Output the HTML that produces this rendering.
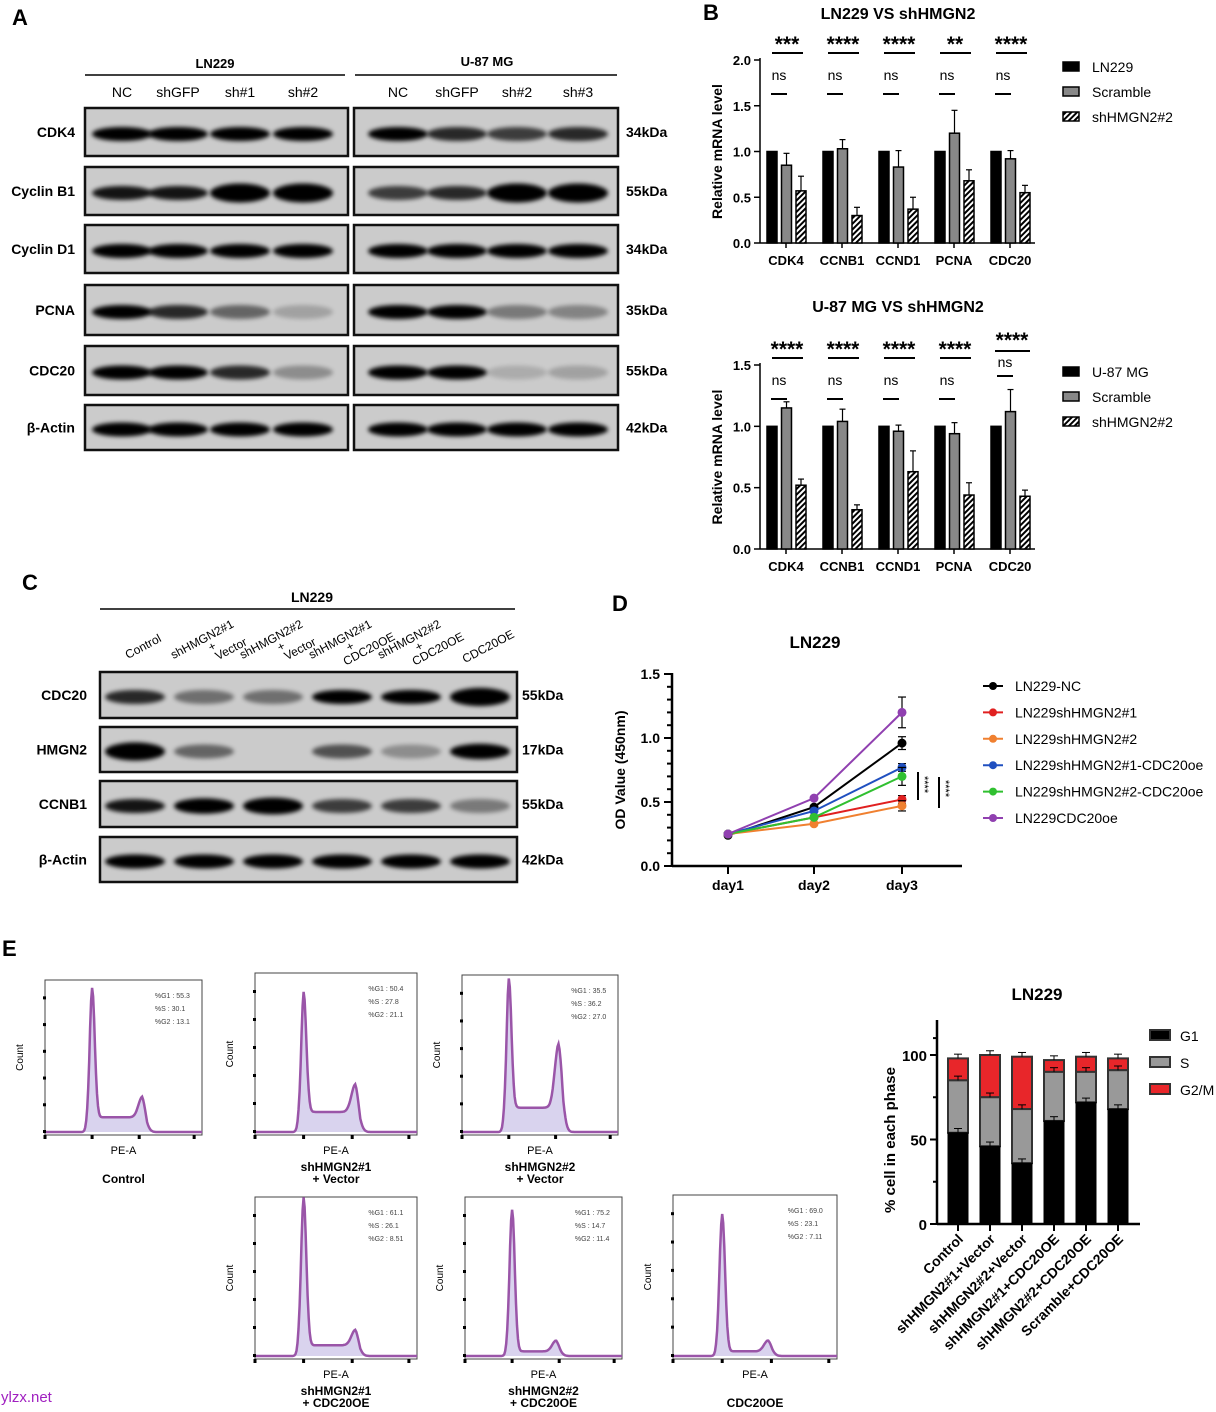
<!DOCTYPE html>
<html><head><meta charset="utf-8"><style>
body{margin:0;background:#fff;}
svg{display:block;font-family:"Liberation Sans",Arial,sans-serif;}
</style></head><body>
<svg id="s" width="1216" height="1412" viewBox="0 0 1216 1412" xmlns="http://www.w3.org/2000/svg">
<defs>
<filter id="bl" x="-20%" y="-100%" width="140%" height="300%"><feGaussianBlur stdDeviation="2.2"/></filter>
<pattern id="hat" width="4" height="4" patternUnits="userSpaceOnUse" patternTransform="rotate(45)"><rect width="4" height="4" fill="#fff"/><rect width="2" height="4" fill="#000"/></pattern>
</defs>
<g id="g"></g>
<text x="1" y="1402" font-size="15" fill="#a020c0">ylzx.net</text>
</svg>
<script>
const G=document.getElementById('g');let h='';
function T(x,y,t,o={}){h+=`<text x="${x}" y="${y}" font-size="${o.s||13}" font-weight="${o.b?'bold':'normal'}" text-anchor="${o.a||'start'}" fill="${o.f||'#000'}" ${o.tr?`transform="${o.tr}"`:''}>${t}</text>`;}
function L(x1,y1,x2,y2,w=1.5,c='#000'){h+=`<line x1="${x1}" y1="${y1}" x2="${x2}" y2="${y2}" stroke="${c}" stroke-width="${w}"/>`;}
function R(x,y,w,hh,f,s='none',sw=0){h+=`<rect x="${x}" y="${y}" width="${w}" height="${hh}" fill="${f}" stroke="${s}" stroke-width="${sw}"/>`;}
function blot(x,y,w,hh,lanes,ints,bh){R(x,y,w,hh,'#cbcbcb','#111',2.5);
 ints.forEach((v,i)=>{if(v<=0)return;const cx=lanes[i];const op=Math.min(1,v);const rh=(bh||7)*(v>1?v:1);
 h+=`<ellipse cx="${cx}" cy="${y+hh/2+2}" rx="30" ry="${rh}" fill="#000" opacity="${op}" filter="url(#bl)"/>`;});}
T(12,25,'A',{s:22,b:1});
T(215,68,'LN229',{b:1,a:'middle'});L(85,75,345,75);
T(487,66,'U-87 MG',{b:1,a:'middle'});L(355,75,617,75);
const la=[122,178,240,303],ra=[398,457,517,578];
['NC','shGFP','sh#1','sh#2'].forEach((t,i)=>T(la[i],97,t,{a:'middle',s:14}));
['NC','shGFP','sh#2','sh#3'].forEach((t,i)=>T(ra[i],97,t,{a:'middle',s:14}));
const rows=[['CDK4',108,48,[1,1,1,1],[1,.8,.7,.8],'34kDa'],['Cyclin B1',167,48,[.9,.9,1.35,1.35],[.7,.8,1.35,1.35],'55kDa'],['Cyclin D1',225,48,[1,1,1,1],[1,1,1,1],'34kDa'],['PCNA',285,50,[1,.8,.5,.2],[1,1,.4,.35],'35kDa'],['CDC20',346,49,[1,1,.8,.3],[1,1,.15,.2],'55kDa'],['β-Actin',405,45,[1,1,1,1],[1,1,1,1],'42kDa']];
rows.forEach(r=>{T(75,r[1]+r[2]/2+5,r[0],{b:1,a:'end',s:14});blot(85,r[1],263,r[2],la,r[3]);blot(354,r[1],264,r[2],ra,r[4]);T(626,r[1]+r[2]/2+5,r[5],{b:1,s:14});});
T(703,20,'B',{s:22,b:1});
function barB(y0,yTop,maxv,ticks,title,ty,vals,errs,legend,ly,stars,nsY,starY){
 const sc=(y0-yTop)/maxv;T(898,ty,title,{b:1,a:'middle',s:16});
 L(760,yTop-2,760,y0);L(760,y0,1035,y0);
 ticks.forEach(t=>{const y=y0-t*sc;L(754,y,760,y);T(751,y+5,t.toFixed(1),{b:1,a:'end',s:13});});
 T(722,(y0+yTop)/2,'Relative mRNA level',{b:1,a:'middle',s:14,tr:`rotate(-90 722 ${(y0+yTop)/2})`});
 ['CDK4','CCNB1','CCND1','PCNA','CDC20'].forEach((n,i)=>{const gx=767+i*56;L(gx+19,y0,gx+19,y0+5);T(gx+19,y0+22,n,{b:1,a:'middle',s:13});
  const f=['#000','#888','url(#hat)'];vals[i].forEach((v,j)=>{const bx=gx+j*14.5;const y=y0-v*sc;R(bx,y,10,v*sc,f[j],'#000',1.5);if(j>0){const e=errs[i][j-1]*sc;L(bx+5,y,bx+5,y-e,1.2);L(bx+2,y-e,bx+8,y-e,1.2);}});
  if(stars[i]){T(gx+12,nsY,'ns',{a:'middle',s:14});L(gx+4,nsY+14,gx+20,nsY+14,2);
  T(gx+20,starY+6,stars[i],{a:'middle',s:21,b:1});L(gx+5,starY+8,gx+36,starY+8,2);}});
 legend.forEach((t,i)=>{R(1063,ly+i*25-6,16,9,['#000','#888','url(#hat)'][i],'#000',1.5);T(1092,ly+i*25+4,t,{s:14});});}
barB(243,60,2,[0,.5,1,1.5,2],'LN229 VS shHMGN2',19,[[1,.85,.57],[1,1.03,.3],[1,.83,.37],[1,1.2,.68],[1,.92,.55]],[[.13,.16],[.1,.09],[.18,.13],[.25,.12],[.09,.08]],['LN229','Scramble','shHMGN2#2'],68,['***','****','****','**','****'],80,45);
barB(549,365,1.5,[0,.5,1,1.5],'U-87 MG VS shHMGN2',312,[[1,1.15,.52],[1,1.04,.32],[1,.96,.63],[1,.94,.44],[1,1.12,.43]],[[.05,.05],[.1,.04],[.05,.17],[.09,.1],[.18,.05]],['U-87 MG','Scramble','shHMGN2#2'],373,['****','****','****','****',''],385,350);
T(1012,347,'****',{a:'middle',s:21,b:1});L(995,351,1030,351,2);T(1005,367,'ns',{a:'middle',s:14});L(997,376,1013,376,2);
T(22,590,'C',{s:22,b:1});T(312,602,'LN229',{b:1,a:'middle',s:14});L(100,609,515,609);
const cl=[135,204,273,342,411,480];
const cn=[['Control'],['shHMGN2#1','+','Vector'],['shHMGN2#2','+','Vector'],['shHMGN2#1','+','CDC20OE'],['shHMGN2#2','+','CDC20OE'],['CDC20OE']];
cn.forEach((a,i)=>{const x=cl[i]+10,y=650;a.forEach((t,k)=>{const off=(k-(a.length-1)/2)*11;T(x+off*0.5+(k==2?10:0),y+off,t,{a:'middle',s:12,tr:`rotate(-28 ${x} ${y})`});});});
[['CDC20',672,46,[.8,.45,.45,1,1,1.3],'55kDa'],['HMGN2',727,45,[1.3,.5,0,.6,.3,1.1],'17kDa'],['CCNB1',781,46,[.9,1.1,1.2,.7,.7,.4],'55kDa'],['β-Actin',837,45,[1,1,1,1,1,1],'42kDa']].forEach(r=>{T(87,r[1]+r[2]/2+5,r[0],{b:1,a:'end',s:14});blot(100,r[1],417,r[2],cl,r[3]);T(522,r[1]+r[2]/2+5,r[4],{b:1,s:14});});
T(612,611,'D',{s:22,b:1});T(815,648,'LN229',{b:1,a:'middle',s:17});
L(672,673,672,866,2.5);L(672,866,962,866,2.5);
for(let i=0;i<=15;i++){const y=866-i*12.8;L(i%5==0?664:667,y,672,y,2);}
[0,.5,1,1.5].forEach(v=>T(660,866-v*128+5,v.toFixed(1),{b:1,a:'end',s:14}));
T(625,770,'OD Value (450nm)',{b:1,a:'middle',s:14,tr:'rotate(-90 625 770)'});
[728,814,902].forEach((x,i)=>{L(x,866,x,874,2);T(x,890,'day'+(i+1),{b:1,a:'middle',s:14});});
const ser=[['#000',[.24,.46,.96],'LN229-NC'],['#e02020',[.25,.38,.52],'LN229shHMGN2#1'],['#f08030',[.25,.33,.47],'LN229shHMGN2#2'],['#2050c0',[.25,.43,.77],'LN229shHMGN2#1-CDC20oe'],['#30c030',[.25,.38,.7],'LN229shHMGN2#2-CDC20oe'],['#9040b0',[.25,.53,1.2],'LN229CDC20oe']];
const er=[.05,.03,.04,.03,.07,.12];
ser.forEach((s,i)=>{const xs=[728,814,902];const pts=s[1].map((v,k)=>xs[k]+','+(866-v*128)).join(' ');h+=`<polyline points="${pts}" fill="none" stroke="${s[0]}" stroke-width="2"/>`;
 const ey=866-s[1][2]*128,e=er[i]*128;L(902,ey-e,902,ey+e,1.2);L(898,ey-e,906,ey-e,1.2);L(898,ey+e,906,ey+e,1.2);
 s[1].forEach((v,k)=>h+=`<circle cx="${xs[k]}" cy="${866-v*128}" r="4.5" fill="${s[0]}"/>`);
 const ly=686+i*26.4;L(983,ly,1003,ly,2,s[0]);h+=`<circle cx="993" cy="${ly}" r="4" fill="${s[0]}"/>`;T(1015,ly+5,s[2],{s:14});});
L(918,772,918,800,2);L(939,777,939,808,2);
T(921,776,'****',{s:11,tr:'rotate(90 921 776)'});T(942,780,'****',{s:11,tr:'rotate(90 942 780)'});
T(2,956,'E',{s:22,b:1});
function hist(x0,y0,w,hh,p,st,lab){R(x0,y0,w,hh,'#fff','#444',1);
 const base=y0+hh-3,N=160;let d='';const c1=.3,c2=p[3]||.62;
 for(let i=0;i<=N;i++){const t=i/N;let v=p[0]*Math.exp(-Math.pow((t-c1)/.024,2))+p[2]*Math.exp(-Math.pow((t-c2)/.035,2));
  if(t>c1-.02&&t<c2+.03)v+=p[1]*(t<c1?Math.max(0,(t-c1+.02)/.02):1)*(t>c2?Math.max(0,1-(t-c2)/.03):1);
  const X=x0+t*w,Y=base-v*(hh-8);d+=(i?'L':'M')+X.toFixed(1)+','+Y.toFixed(1);}
 h+=`<path d="${d}L${x0+w},${base}L${x0},${base}Z" fill="#d9d3ee"/><path d="${d}" fill="none" stroke="#9a55a8" stroke-width="2.5"/>`;
 for(let i=0;i<6;i++){const y=base-i*(hh-8)/5.5;R(x0-2,y-2,3,3,'#000');}
 [0,.3,.6,.95].forEach(t=>R(x0+t*w-1.5,y0+hh,3,4,'#000'));
 ['%G1','%S','%G2'].forEach((k,i)=>T(x0+w*.7,y0+18+i*13,k+' : '+st[i],{s:7,f:'#444',a:'start'}));
 T(x0-22,y0+hh/2,'Count',{s:10,a:'middle',tr:`rotate(-90 ${x0-22} ${y0+hh/2})`});
 T(x0+w*.5,y0+hh+19,'PE-A',{s:11,a:'middle'});
 lab.forEach((t,i)=>T(x0+w*.5,y0+hh+36+i*12,t,{s:12,b:1,a:'middle'}));}
hist(45,980,157,155,[.88,.1,.14],['55.3','30.1','13.1'],['','Control']);
hist(255,973,162,162,[.78,.13,.18],['50.4','27.8','21.1'],['shHMGN2#1','+ Vector']);
hist(462,975,156,160,[.85,.16,.42],['35.5','36.2','27.0'],['shHMGN2#2','+ Vector']);
hist(255,1197,162,162,[.96,.07,.1],['61.1','26.1','8.51'],['shHMGN2#1','+ CDC20OE']);
hist(465,1197,157,162,[.92,.03,.07,.58],['75.2','14.7','11.4'],['shHMGN2#2','+ CDC20OE']);
hist(673,1195,164,164,[.88,.03,.07,.58],['69.0','23.1','7.11'],['','CDC20OE']);
T(1037,1000,'LN229',{b:1,a:'middle',s:17});
L(937,1020,937,1224,2.5);L(937,1224,1140,1224,2.5);
[0,50,100].forEach(v=>{const y=1224-v*1.69;L(930,y,937,y,2);T(927,y+6,v,{b:1,a:'end',s:15});});
[25,75,110].forEach(v=>L(933,1224-v*1.69,937,1224-v*1.69,2));
T(895,1140,'% cell in each phase',{b:1,a:'middle',s:15,tr:'rotate(-90 895 1140)'});
const bs=[[54,85,98],[46,75,100],[36,68,99],[61,90,97],[72,90,99],[68,91,98]];
const bn=['Control','shHMGN2#1+Vector','shHMGN2#2+Vector','shHMGN2#1+CDC20OE','shHMGN2#2+CDC20OE','Scramble+CDC20OE'];
bs.forEach((b,i)=>{const cx=958+i*32,x=cx-10,Y=v=>1224-v*1.69;
 R(x,Y(b[2]),20,Y(b[1])-Y(b[2]),'#e8262a','#333',2);R(x,Y(b[1]),20,Y(b[0])-Y(b[1]),'#999','#333',2);R(x,Y(b[0]),20,Y(0)-Y(b[0]),'#000','#000',1);
 [b[0],b[1],b[2]].forEach(v=>{L(cx,Y(v),cx,Y(v+2.5),1);L(cx-4,Y(v+2.5),cx+4,Y(v+2.5),1);});
 L(cx,1224,cx,1231,2);T(cx+6,1240,bn[i],{b:1,a:'end',s:14,tr:`rotate(-45 ${cx+6} 1240)`});});
[['G1','#000'],['S','#999'],['G2/M','#e8262a']].forEach((l,i)=>{R(1150,1030+i*27,20,10,l[1],'#333',2);T(1180,1041+i*27,l[0],{s:14});});
G.innerHTML=h;
</script>
</body></html>
